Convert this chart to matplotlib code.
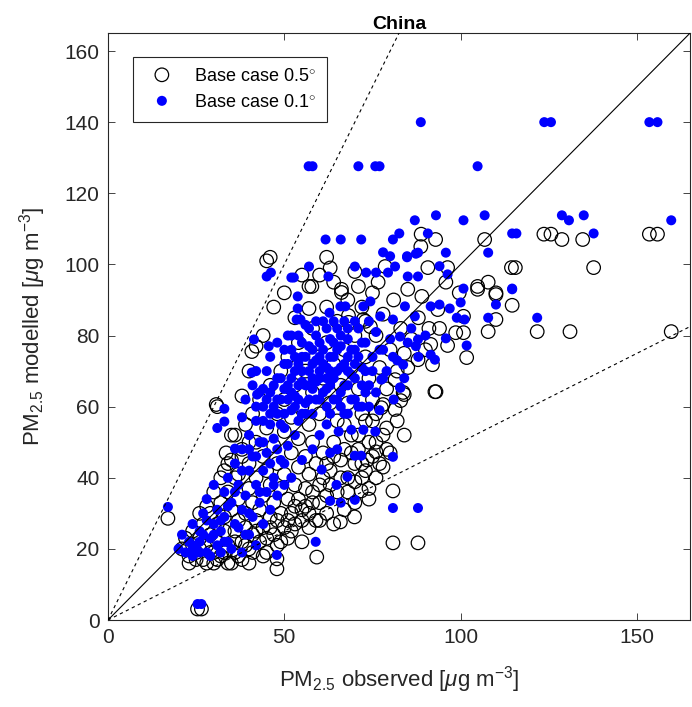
import matplotlib
matplotlib.use("Agg")
import matplotlib.pyplot as plt
import numpy as np

plt.rcParams['font.family'] = ['Liberation Sans', 'DejaVu Sans']
plt.rcParams['mathtext.fontset'] = 'custom'
plt.rcParams['mathtext.rm'] = 'Liberation Sans'
plt.rcParams['mathtext.it'] = 'Liberation Sans:italic'

# Base case 0.5 deg (open circles): observed, modelled
obs_05 = [
    25.4, 26.5, 17, 31, 33.5, 47.9, 47.9, 59.2, 45, 46, 62, 63, 57, 57.8, 57, 68.2, 66.2, 42, 88.7, 78.6,
    71, 76.6, 66.2, 72.4, 74.4, 73, 87.9, 85, 81.4, 83.7, 78, 81.4, 68.2, 40.8, 30.7,
    88.8, 92.9, 106.8, 123.6, 125.6, 128.7, 134.6, 153.5, 155.8, 114.4, 115.5, 137.7, 90.7, 96.3, 95.8,
    104.8, 107.8, 110, 99.6, 159.7, 131, 121.7, 107.8, 114.6, 110, 110, 104.8, 101.7, 100.8, 98.6, 96.3,
    94, 92.7, 92, 91.5, 100.8, 93.5, 93, 83, 84, 80.8, 80.8, 87.9, 77.5, 76, 73.5, 73, 69.9, 65.9, 71.8, 70,
    21, 22, 23, 24, 24, 25, 26, 27, 27, 28, 29, 29, 30, 30, 31, 31, 32, 32, 33, 33, 34, 34, 35, 35, 36, 36,
    37, 37, 38, 38, 39, 39, 40, 40, 41, 41, 42, 42, 43, 43, 44, 44, 45, 45, 46, 46, 47, 47, 48, 48, 49, 49,
    50, 50, 51, 51, 52, 52, 53, 53, 54, 54, 55, 55, 56, 56, 57, 57, 58, 58, 59, 60, 60, 61, 62, 62, 63, 64,
    64, 65, 66, 67, 67, 68, 69, 70, 71, 72, 74, 75, 76, 78, 79, 80,
    35, 36, 37, 38, 39, 40, 41, 42, 43, 44, 45, 46, 47, 48, 49, 50, 50, 51, 52, 53, 54, 54, 55, 56, 57, 58,
    58, 59, 60, 61, 62, 62, 63, 64, 65, 65, 66, 67, 68, 68, 69, 70, 71, 72, 72, 73, 74, 75, 75, 76, 77, 78,
    79, 80, 81, 82, 83, 84, 85, 86, 88, 89, 90, 91,
    44, 47, 40, 38, 50, 53, 55, 60, 64, 70,
    23, 25, 26, 28, 29, 31, 33, 34, 36, 37, 39, 40, 41, 42, 44, 45, 46, 48, 49, 51, 52, 53, 55, 56, 57, 58,
    59, 60, 61, 62, 63, 64, 66, 67, 68, 69, 70, 71, 72, 73, 74, 75, 76, 77, 78, 79, 82, 84, 76, 74,
    30, 28, 26, 32, 34, 36, 38, 40, 35, 33,
]
mod_05 = [
    3.1, 3.1, 28.6, 60, 47, 14.4, 17.2, 17.7, 101, 102, 102, 99, 93.8, 93.8, 87.6, 85.6, 92.1, 77, 105, 99.4,
    93.8, 95, 93, 84.5, 82.5, 84, 73.2, 71, 67.6, 64, 60.6, 59.2, 83.7, 75.5, 60.6,
    108.5, 107, 107, 108.5, 108.5, 107, 107, 108.5, 108.5, 99.1, 99.1, 99.1, 99.1, 99.1, 95,
    93.8, 95, 92, 92, 81.1, 81.1, 81.1, 81.1, 88.5, 84.5, 91.5, 93, 73.8, 80.8, 80.8, 77.2,
    82, 64.2, 71.8, 77.5, 85.4, 87.3, 64.2, 61.7, 63.4, 36.3, 21.7, 21.7, 59.7, 47.3, 45, 42, 29, 27.6, 36.3, 38.9,
    20, 23, 18, 21, 25, 19, 23, 27, 17, 21, 24, 30, 19, 16, 22, 27, 33, 18, 25, 29, 21, 36, 16, 31, 19, 25,
    28, 34, 22, 17, 30, 26, 37, 20, 33, 24, 28, 40, 22, 31, 35, 26, 19, 42, 29, 38, 24, 33, 44, 21, 30, 37,
    26, 41, 34, 23, 47, 30, 38, 27, 43, 34, 31, 22, 46, 37, 26, 41, 33, 50, 44, 28, 38, 47, 35, 30, 42, 27,
    50, 36, 45, 31, 55, 40, 47, 33, 52, 44, 37, 56, 50, 43, 54, 47,
    45, 52, 41, 48, 55, 44, 58, 50, 62, 46, 54, 66, 49, 58, 70, 53, 62, 74, 57, 66, 51, 78, 60, 70, 55, 82,
    64, 74, 58, 68, 88, 78, 61, 72, 84, 56, 66, 76, 90, 61, 71, 80, 65, 58, 88, 74, 68, 92, 62, 80, 71, 86,
    65, 76, 90, 70, 82, 75, 93, 79, 85, 91, 76, 82,
    80, 88, 70, 63, 92, 85, 97, 97, 95, 98,
    16, 17, 20, 16, 19, 17, 19, 16, 22, 18, 21, 16, 19, 25, 18, 23, 26, 28, 22, 28, 25, 32, 28, 32, 30, 36,
    28, 33, 40, 44, 38, 46, 40, 48, 36, 52, 44, 48, 40, 56, 50, 46, 58, 44, 52, 48, 56, 52, 40, 34,
    36, 32, 30, 40, 44, 40, 46, 50, 52, 42,
]

# Base case 0.1 deg (filled blue dots): observed, modelled
obs_01 = [
    25.4, 26.5, 17, 33, 33, 31, 47.9, 58.9, 36,
    88.7, 123.7, 125.6, 153.5, 155.8,
    56.9, 58, 71, 75.8, 77, 104.8,
    87, 93, 100.8, 106.8, 128.7, 130.7, 134.9, 159.7,
    114.6, 115.8, 137.7, 82.6, 90.7, 107.8, 95.8, 87.9, 84.8, 94, 96.3, 114.6, 100.8,
    121.7, 107.8, 110, 101.7, 95.8, 92.7, 91.5, 96.9, 98.9, 101.1, 100, 94, 91.5, 114.6,
    82.9, 80.8, 80.8, 87.9, 75.8, 72.4, 69, 65.4, 70, 66, 63, 64.8, 67.9, 71.8, 70, 63, 60.6,
    57, 45, 46.2, 52, 52.7, 62.5, 70, 53.8, 53.8, 53.5, 54.6, 62.8, 65.9, 67.3, 41.4, 45.6,
    78, 80, 84.8, 87.3, 61.7, 66, 71.8, 80.8,
    73.2, 76, 79.4, 81.4, 85, 87.9, 74.4, 72.4, 77.2, 80.8, 84.2, 87, 87.9, 87.3, 82.8, 80.8, 83.7,
    77.5, 82.8, 40.8, 42.3,
    20, 21, 22, 23, 24, 25, 26, 27, 28, 28, 29, 30, 30, 31, 31, 32, 33, 33, 34, 34, 35, 36, 36, 37, 38, 38,
    39, 39, 40, 40, 41, 41, 42, 42, 43, 43, 44, 44, 45, 45, 46, 46, 47, 47, 48, 48, 49, 49, 50, 50, 51, 51,
    52, 52, 53, 53, 54, 54, 55, 55, 56, 56, 57, 57, 58, 58, 59, 59, 60, 60, 61, 61, 62, 62, 63, 63, 64, 64,
    65, 65, 66, 66, 67, 67, 68, 68, 69, 70, 70, 71, 72, 73, 74, 75, 76, 77, 78, 79, 80, 81, 82, 84, 85, 86,
    88, 90,
    38, 39, 41, 42, 44, 45, 46, 47, 48, 49, 50, 51, 52, 53, 54, 55, 56, 57, 58, 59, 60, 62, 63, 64, 66, 68,
    70, 72, 74,
    24, 26, 29, 32, 35, 38, 40, 42, 44, 46, 48, 50, 52, 55, 58, 60, 62, 65, 68, 72,
    42, 43, 44, 45, 46, 47, 48, 49, 50, 50, 51, 51, 52, 52, 53, 53, 54, 54, 55, 55, 56, 56, 57, 57, 58, 58,
    59, 59, 60, 60, 61, 61, 62, 62, 63, 63, 64, 64, 65, 65, 66, 66, 67, 67, 68, 68, 69, 69, 70, 70, 71, 71,
    72, 73, 73, 74, 75, 76, 77, 78, 46, 48, 44, 42, 40, 38, 36, 34, 32, 30, 28, 26, 24, 27, 33, 37,
    40, 43, 47, 50,
]
mod_01 = [
    4.5, 4.5, 31.8, 59.4, 55.8, 54, 18.3, 22, 48.2,
    140, 140, 140, 140, 140,
    127.6, 127.6, 127.6, 127.6, 127.6, 127.6,
    112.4, 113.8, 112.4, 113.8, 113.8, 112.4, 113.8, 112.4,
    108.7, 108.7, 108.7, 108.7, 108.7, 103.3, 103.3, 103.3, 102, 99.5, 97.2, 93.2, 93.2,
    85, 85, 88.7, 77.2, 79.2, 73.2, 74.6, 87.6, 85, 84.5, 89.3, 88.7, 88.2, 93,
    65.3, 45.9, 31.5, 31.5, 53, 53.5, 53.5, 53, 33.8, 33, 33.5, 38, 40.3, 46.2, 46.2, 47, 42.3,
    99.4, 96.6, 97.7, 96.3, 96.3, 96.6, 99.4, 91, 87.6, 84.5, 84.5, 86.4, 88.2, 88.2, 78.9, 77,
    103.4, 102.3, 102.3, 103, 107, 107, 107, 107,
    97.7, 97.7, 97.7, 99.4, 96.6, 96.6, 89.6, 88.2, 85.4, 84.5, 88.2, 85.4, 78.9, 77, 79.7, 74, 71.8,
    67.6, 65.4, 69.6, 63.4,
    20, 24, 19, 22, 27, 21, 25, 30, 19, 34, 23, 27, 38, 21, 31, 25, 36, 29, 40, 22, 33, 27, 44, 38, 31, 48,
    24, 35, 42, 52, 29, 46, 56, 38, 33, 50, 60, 42, 47, 36, 55, 64, 40, 51, 68, 58, 45, 62, 54, 72, 66, 49,
    59, 76, 63, 70, 56, 80, 67, 74, 61, 83, 70, 77, 65, 58, 73, 80, 68, 62, 76, 84, 71, 65, 79, 58, 74, 68,
    82, 62, 77, 71, 66, 84, 74, 79, 69, 76, 62, 82, 71, 78, 66, 74, 81, 59, 76, 70, 79, 62, 73, 68, 78, 82,
    74, 80,
    57, 62, 66, 70, 65, 70, 74, 60, 78, 55, 65, 80, 68, 52, 72, 58, 66, 62, 72, 67, 74, 60, 70, 78, 60, 70,
    72, 66, 60,
    18, 19, 18, 19, 20, 19, 24, 21, 27, 31, 35, 38, 40, 45, 48, 52, 55, 48, 58, 60,
    60, 64, 56, 62, 58, 66, 62, 68, 58, 76, 62, 72, 64, 80, 60, 74, 66, 62, 70, 78, 74, 58, 66, 82, 68, 76,
    62, 84, 70, 78, 64, 72, 82, 68, 74, 66, 62, 84, 70, 76, 80, 64, 72, 58, 66, 82, 76, 62, 68, 84, 74, 60,
    78, 70, 64, 84, 70, 64, 76, 68, 44, 48, 50, 46, 48, 42, 36, 32, 28, 24, 28, 22, 20, 24, 22, 26,
    30, 36, 38, 44,
]

lim = 165

fig = plt.figure(figsize=(6.92, 7.07), dpi=100)
ax = fig.add_axes([0.156, 0.123, 0.841, 0.830])

ax.scatter(obs_05, mod_05, s=95, facecolors='none', edgecolors='black', linewidths=0.9,
           label=r'Base case 0.5$^{\circ}$', zorder=2)
ax.scatter(obs_01, mod_01, s=52, color='blue', edgecolors='none',
           label=r'Base case 0.1$^{\circ}$', zorder=3)

# 1:1, 2:1 and 1:2 reference lines
xl = np.array([0, 200])
ax.plot(xl, xl, '-', color='black', lw=0.8, zorder=4)
ax.plot(xl, 2 * xl, '--', color='black', lw=0.8, dashes=(3, 3), zorder=4)
ax.plot(xl, 0.5 * xl, '--', color='black', lw=0.8, dashes=(3, 3), zorder=4)

ax.set_xlim(0, lim)
ax.set_ylim(0, lim)
ax.set_xticks([0, 50, 100, 150])
ax.set_yticks(np.arange(0, 161, 20))
ax.tick_params(direction='in', top=True, right=True, length=5, width=0.6,
               labelsize=15, colors='#262626', pad=6)
for s in ax.spines.values():
    s.set_linewidth(0.8)
    s.set_color('#262626')

ax.set_xlabel(r'PM$_{2.5}$ observed [$\mu$g m$^{-3}$]', fontsize=16, color='#262626', labelpad=12)
ax.set_ylabel(r'PM$_{2.5}$ modelled [$\mu$g m$^{-3}$]', fontsize=16, color='#262626', labelpad=12)
ax.set_title('China', fontsize=14, fontweight='bold', pad=3)

leg = ax.legend(loc='upper left', bbox_to_anchor=(0.043, 0.959), borderaxespad=0,
                fontsize=13, fancybox=False, framealpha=1, edgecolor='#262626',
                handletextpad=0.8, borderpad=0.6, labelspacing=0.5, scatteryoffsets=[0.5])
leg.get_frame().set_linewidth(0.8)

fig.savefig('out.png', dpi=100)
